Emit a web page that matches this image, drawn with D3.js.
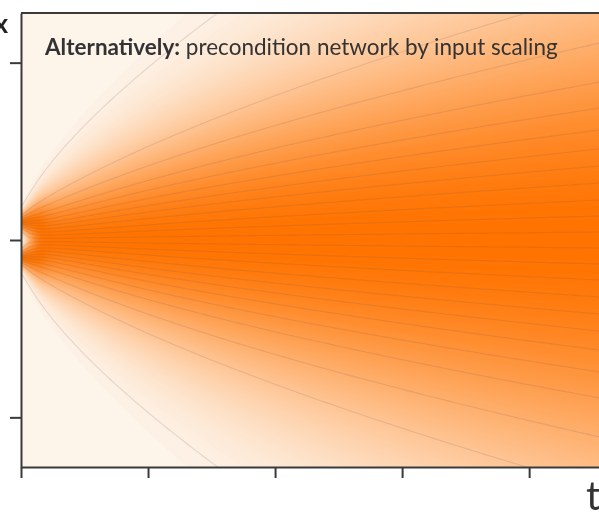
<!DOCTYPE html>
<html>
<head>
<meta charset="utf-8">
<script src="https://cdn.jsdelivr.net/npm/d3@7"></script>
<style>
  html, body { margin: 0; padding: 0; background: #ffffff; }
  #wrap { position: relative; width: 599px; height: 513px; overflow: hidden; }
  #wrap canvas, #wrap svg { position: absolute; left: 0; top: 0; }
</style>
</head>
<body>
<div id="wrap">
  <canvas id="field" width="599" height="513"></canvas>
  <svg id="chart" width="599" height="513"></svg>
</div>
<script>
// ---- model of the diffusion (data modes and noise growth) ----
const modeCenters = [-0.1, 0.1];
const modeWeights = [0.5, 0.5];
const modeStd = 0.03;
const noiseScale = 0.29;       // sigma(t) = noiseScale * t^noiseExponent
const noiseExponent = 0.68;
const shadeGamma = 0.68;       // tone curve applied to the normalised density

// ---- trajectory positions x at the final time (upper half, then lower half) ----
const trajectoryEnds = [
  2.6, 1.4, 1.11, 0.89, 0.744, 0.62, 0.513, 0.417, 0.321, 0.225, 0.135, 0.045,
  -0.045, -0.135, -0.225, -0.321, -0.417, -0.513, -0.62, -0.744, -0.89, -1.11, -1.4, -2.6
];

// ---- axes ----
const tDomain = [0, 4.55];
const xDomain = [-1.28, 1.28];
const tTicks = [0, 1, 2, 3, 4];
const xTicks = [-1, 0, 1];
const titleBold = "Alternatively:";
const titleRest = " precondition network by input scaling";
const xLabel = "x";
const tLabel = "t";

const plot = { left: 21, right: 599, top: 13, bottom: 467 };

const tScale = d3.scaleLinear().domain(tDomain).range([plot.left, plot.right]);
const xScale = d3.scaleLinear().domain(xDomain).range([plot.bottom, plot.top]);

const paleColor = "#fdf4ea";
const deepColor = "#ff7300";
const colorOf = d3.interpolateRgb(paleColor, deepColor);

function sigmaAt(t) { return noiseScale * Math.pow(Math.max(t, 0), noiseExponent); }
function spreadAt(t) { const s = sigmaAt(t); return Math.sqrt(modeStd * modeStd + s * s); }

function density(x, t) {
  const s = spreadAt(t);
  let p = 0;
  for (let i = 0; i < modeCenters.length; i++) {
    const d = (x - modeCenters[i]) / s;
    p += modeWeights[i] * Math.exp(-0.5 * d * d) / s;
  }
  return p;
}

function erf(z) {
  const sgn = z < 0 ? -1 : 1;
  z = Math.abs(z);
  const a = 1 / (1 + 0.3275911 * z);
  const y = 1 - (((((1.061405429 * a - 1.453152027) * a) + 1.421413741) * a - 0.284496736) * a + 0.254829592) * a * Math.exp(-z * z);
  return sgn * y;
}
function cdf(x, t) {
  const s = spreadAt(t);
  let c = 0;
  for (let i = 0; i < modeCenters.length; i++) {
    c += modeWeights[i] * 0.5 * (1 + erf((x - modeCenters[i]) / (s * Math.SQRT2)));
  }
  return c;
}
function quantile(q, t) {
  let lo = -8, hi = 8;
  for (let k = 0; k < 60; k++) {
    const mid = (lo + hi) / 2;
    if (cdf(mid, t) < q) lo = mid; else hi = mid;
  }
  return (lo + hi) / 2;
}

// ---- density field, normalised per time column ----
(function drawField() {
  const ctx = document.getElementById("field").getContext("2d");
  const x0 = Math.round(tScale.range()[0]), x1 = Math.round(tScale.range()[1]);
  const y0 = Math.round(xScale.range()[1]), y1 = Math.round(xScale.range()[0]);
  const w = x1 - x0, h = y1 - y0;
  const img = ctx.createImageData(w, h);
  const lut = d3.range(256).map(i => d3.rgb(colorOf(Math.pow(i / 255, shadeGamma))));
  const col = new Float64Array(h);
  for (let i = 0; i < w; i++) {
    const t = tScale.invert(x0 + i + 0.5);
    let mx = 0;
    for (let j = 0; j < h; j++) {
      const v = density(xScale.invert(y0 + j + 0.5), t);
      col[j] = v; if (v > mx) mx = v;
    }
    for (const m of modeCenters) mx = Math.max(mx, density(m, t));
    for (let j = 0; j < h; j++) {
      const c = lut[Math.max(0, Math.min(255, Math.round(255 * col[j] / mx)))];
      const k = 4 * (j * w + i);
      img.data[k] = c.r; img.data[k + 1] = c.g; img.data[k + 2] = c.b; img.data[k + 3] = 255;
    }
  }
  ctx.putImageData(img, x0, y0);
})();

const svg = d3.select("#chart");

svg.append("defs").append("clipPath").attr("id", "plotClip")
  .append("rect")
  .attr("x", tScale.range()[0]).attr("y", xScale.range()[1])
  .attr("width", tScale.range()[1] - tScale.range()[0])
  .attr("height", xScale.range()[0] - xScale.range()[1]);

// ---- trajectories: quantile curves of the evolving density ----
const tEnd = tDomain[1];
const nSteps = 240;
const tSamples = d3.range(nSteps + 1).map(k => tEnd * Math.pow(k / nSteps, 2));
const trajectories = trajectoryEnds.map(xe => {
  const q = cdf(xe, tEnd);
  return tSamples.map(t => ({ t, x: quantile(q, t) }));
});

const line = d3.line().x(d => tScale(d.t)).y(d => xScale(d.x));
svg.append("g").attr("clip-path", "url(#plotClip)")
  .selectAll("path").data(trajectories).join("path")
  .attr("d", line)
  .attr("fill", "none")
  .attr("stroke", "#6a5550")
  .attr("stroke-opacity", 0.16)
  .attr("stroke-width", 1.1);

// ---- axes ----
const axisColor = "#3a3a3a";
const gx = svg.append("g")
  .attr("transform", `translate(0,${xScale.range()[0]})`)
  .call(d3.axisBottom(tScale).tickValues(tTicks).tickSize(11).tickSizeOuter(0).tickFormat(""));
const gy = svg.append("g")
  .attr("transform", `translate(${tScale.range()[0]},0)`)
  .call(d3.axisLeft(xScale).tickValues(xTicks).tickSize(11).tickSizeOuter(0).tickFormat(""));
[gx, gy].forEach(g => {
  g.selectAll("path, line").attr("stroke", axisColor).attr("stroke-width", 2);
});
svg.append("line")
  .attr("x1", tScale(tDomain[0])).attr("x2", tScale(tDomain[1]))
  .attr("y1", xScale(xDomain[1])).attr("y2", xScale(xDomain[1]))
  .attr("stroke", axisColor).attr("stroke-width", 2);

// ---- labels ----
const title = svg.append("text")
  .attr("x", 45).attr("y", 55)
  .attr("font-family", "Lato, 'Open Sans', sans-serif")
  .attr("font-size", 22.5)
  .attr("fill", "#333333");
title.append("tspan").attr("font-weight", 700).text(titleBold);
title.append("tspan").attr("font-weight", 400).text(titleRest);

svg.append("text")
  .attr("x", 8).attr("y", 33).attr("text-anchor", "end")
  .attr("font-family", "Lato, 'Open Sans', sans-serif")
  .attr("font-size", 27).attr("font-weight", 700)
  .attr("fill", "#222222").text(xLabel);

svg.append("text")
  .attr("x", 586).attr("y", 510)
  .attr("font-family", "Lato, 'Open Sans', sans-serif")
  .attr("font-size", 40)
  .attr("fill", "#333333").text(tLabel);
</script>
</body>
</html>
